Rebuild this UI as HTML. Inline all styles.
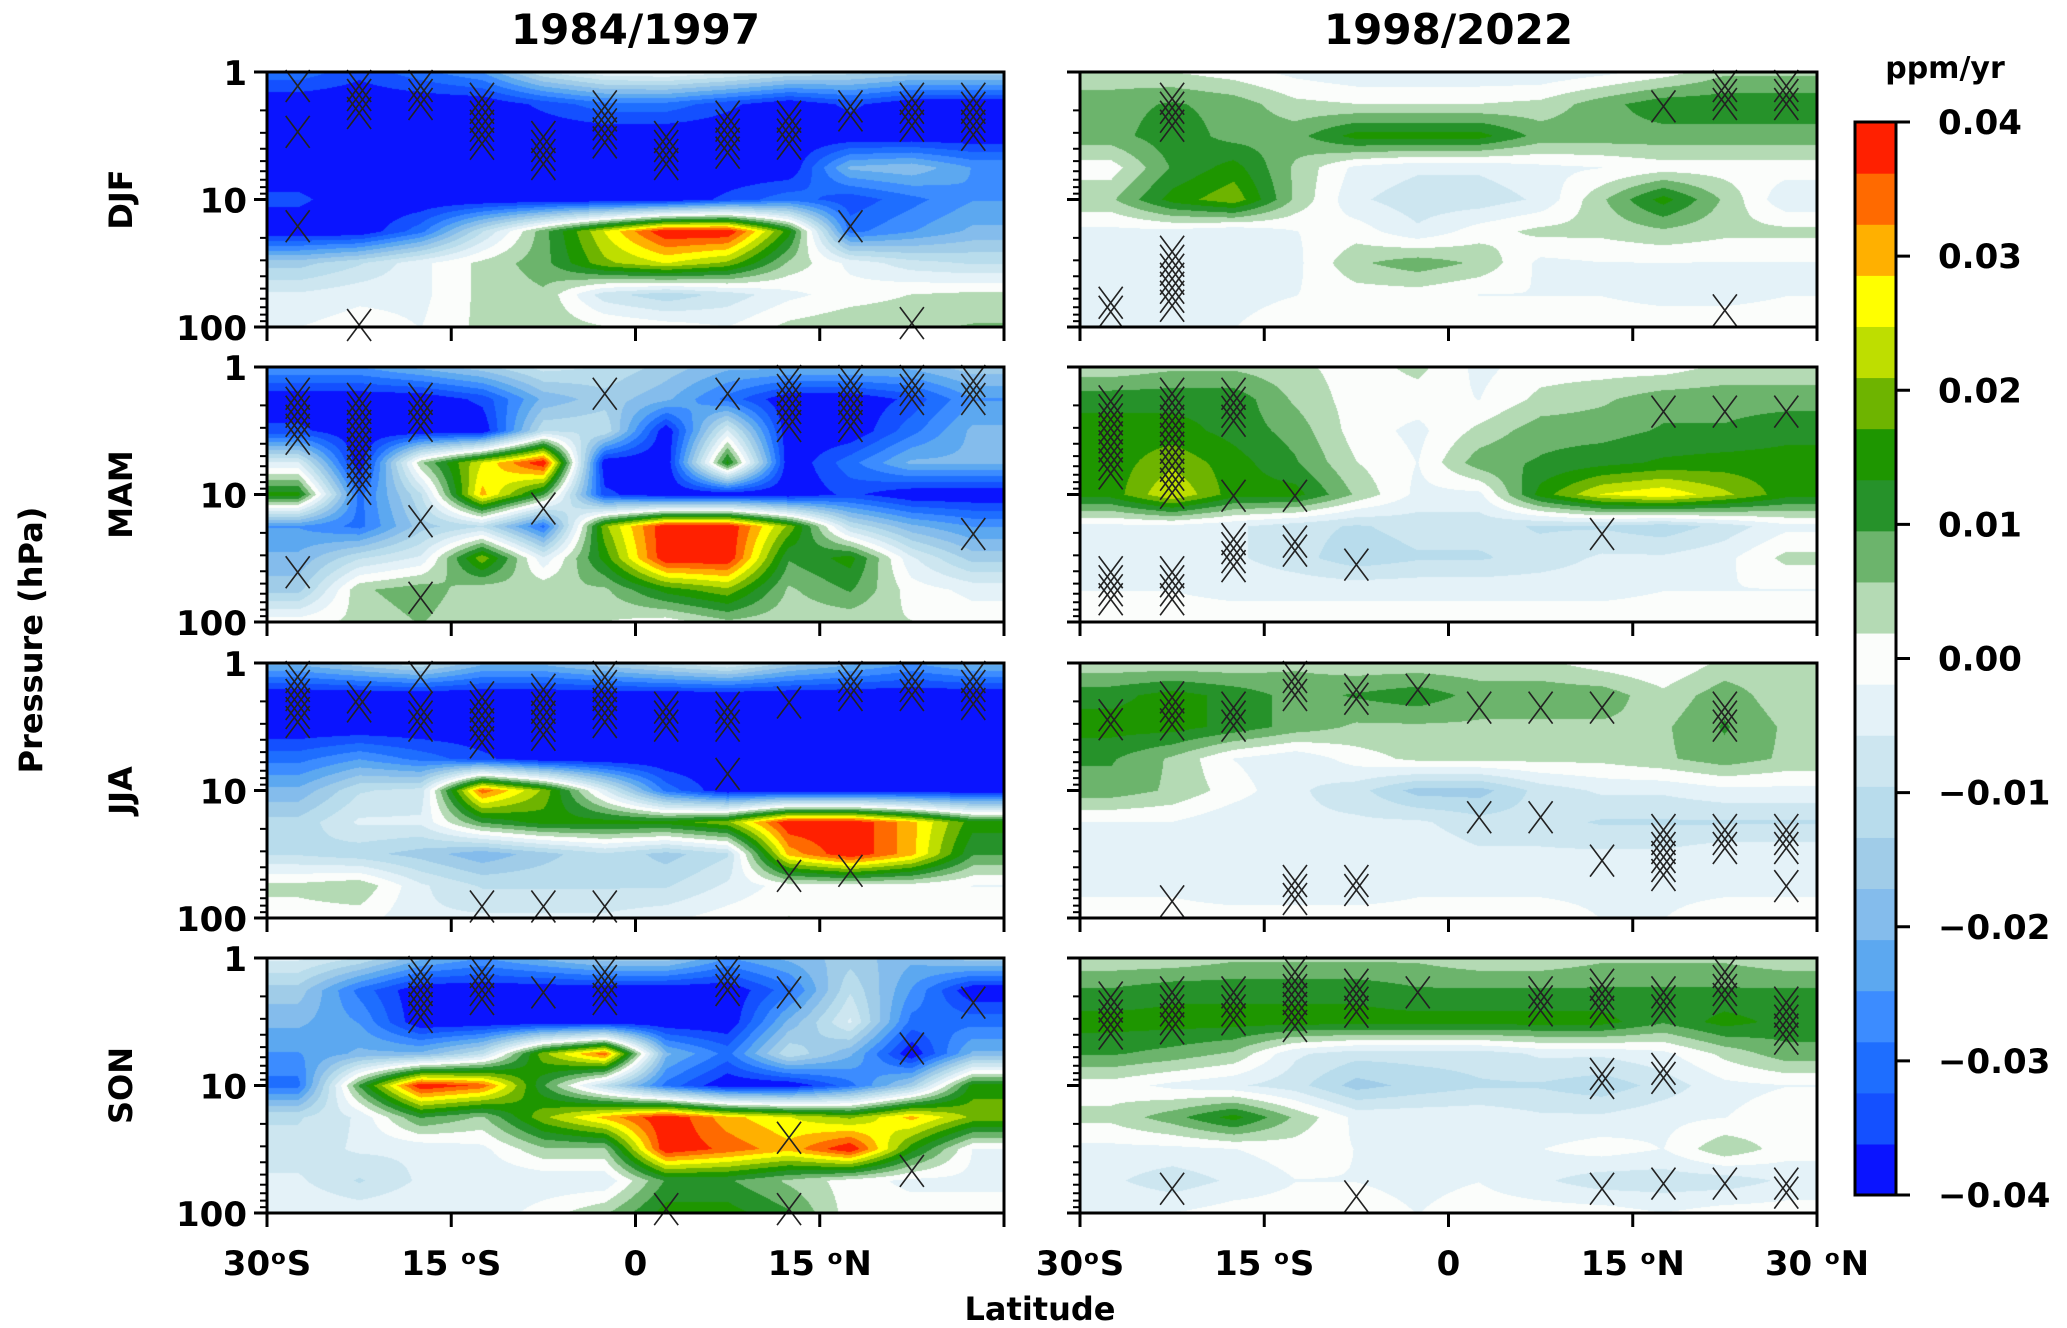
<!DOCTYPE html>
<html><head><meta charset="utf-8">
<style>
html,body{margin:0;padding:0;background:#fff;width:2067px;height:1328px;overflow:hidden;position:relative}
canvas{position:absolute}
svg{position:absolute;left:0;top:0}
text{font-family:"DejaVu Sans","Liberation Sans",sans-serif;font-weight:bold;fill:#000}
</style></head>
<body>
<div id="fields"></div>
<svg id="ov" width="2067" height="1328"></svg>
<script>
// latitude centers (deg) and pressure levels (hPa)
const lats=[-27.5,-22.5,-17.5,-12.5,-7.5,-2.5,2.5,7.5,12.5,17.5,22.5,27.5];
const logp=[0,0.25,0.5,0.75,1,1.25,1.5,1.75,2];
const seasons=["DJF","MAM","JJA","SON"];
const periods=["1984/1997","1998/2022"];
const cbTicks=[0.04,0.03,0.02,0.01,0.00,-0.01,-0.02,-0.03,-0.04];
const cbLabels=["0.04","0.03","0.02","0.01","0.00","\u22120.01","\u22120.02","\u22120.03","\u22120.04"];
const xTicks=[-30,-15,0,15,30];
const xLabelsL=["30\u1D52S","15 \u1D52S","0","15 \u1D52N",""];
const xLabelsR=["30\u1D52S","15 \u1D52S","0","15 \u1D52N","30 \u1D52N"];
// trends in 0.001 ppm/yr, rows top (1 hPa) to bottom (100 hPa)
const djfA=[[-30,-35,-30,-25,-10,-3,-2,-5,-10,-12,-15,-15],[-40,-40,-40,-40,-35,-30,-30,-35,-40,-35,-40,-40],[-40,-40,-40,-40,-40,-40,-40,-40,-40,-40,-40,-40],[-40,-40,-40,-40,-40,-40,-40,-40,-40,-20,-18,-25],[-35,-40,-40,-40,-40,-40,-40,-35,-30,-35,-30,-25],[-40,-40,-30,-10,8,25,40,40,15,-30,-25,-20],[-15,-10,-3,3,8,20,25,20,5,-3,-8,-10],[-5,-3,-3,3,5,-8,-12,-8,-3,0,2,3],[-2,0,-2,3,5,2,0,-2,3,5,5,6]];
const mamA=[[-25,-25,-20,-15,-8,-10,-15,-20,-20,-20,-20,-15],[-40,-40,-40,-35,-20,-15,-20,-30,-40,-40,-35,-25],[-35,-40,-40,-40,-10,-10,-40,-5,-40,-40,-30,-20],[-5,-40,5,25,40,-40,-40,15,-40,-30,-20,-20],[15,-30,-10,30,10,-35,-40,-40,-40,-35,-40,-40],[-25,-30,-15,-10,-30,20,40,40,20,-10,-20,-25],[-20,-10,-5,20,-5,15,40,40,10,15,-5,-15],[-15,5,8,3,5,5,15,20,5,10,0,-3],[0,3,6,2,3,2,0,5,3,3,2,0]];
const jjaA=[[-20,-15,-10,-20,-20,-15,-10,-5,-15,-20,-25,-20],[-40,-40,-40,-40,-40,-40,-40,-40,-40,-40,-40,-40],[-40,-40,-40,-40,-40,-40,-40,-40,-40,-40,-40,-40],[-30,-25,-30,-35,-40,-40,-40,-40,-40,-40,-40,-40],[-20,-10,-8,35,20,-5,-30,-40,-40,-40,-40,-40],[-12,-5,-5,10,15,15,15,20,40,40,30,15],[-10,-12,-15,-20,-15,-10,-15,-10,30,40,30,10],[3,5,-5,-10,-10,-10,-10,-5,0,0,0,-2],[0,0,-5,-5,-5,-5,-3,0,2,0,0,0]];
const sonA=[[-5,-10,-20,-25,-20,-15,-15,-25,-20,-15,-20,-15],[-15,-30,-40,-40,-40,-40,-40,-40,-30,-10,-25,-40],[-20,-25,-40,-40,-40,-40,-40,-40,-20,-5,-30,-30],[-25,-20,-20,-10,20,35,-20,-30,-10,-20,-40,-20],[-30,10,40,35,10,-10,-30,-40,-40,-30,-15,15],[-10,-5,10,5,20,30,40,30,25,20,30,20],[-8,-5,-5,-3,5,5,40,35,30,40,15,-2],[-5,-10,-5,-5,-5,-5,10,10,5,0,-3,-3],[-2,-3,-2,-5,0,5,15,15,10,0,0,0]];
const djfB=[[3,2,0,-3,-5,-5,-5,-5,-3,0,5,5],[8,10,8,3,2,2,2,3,8,12,12,12],[8,12,8,8,15,15,15,8,8,8,8,8],[0,10,15,5,-3,-5,-5,-3,-2,0,0,0],[5,15,20,5,-5,-8,-8,-5,5,15,5,-5],[-3,-3,-5,-2,0,-5,0,3,3,5,3,3],[-3,-5,-5,-3,5,8,5,-3,-2,-2,-2,-2],[-3,-3,-3,-2,0,0,-2,-2,-2,-3,-3,-2],[-3,-2,-2,0,0,0,0,0,0,0,0,0]];
const mamB=[[3,5,5,3,0,3,-3,0,0,0,3,3],[12,12,12,5,0,0,-2,3,5,8,8,8],[15,15,12,8,0,-3,3,8,8,10,10,12],[15,20,15,10,2,-2,8,10,12,14,15,15],[15,25,15,15,5,-3,-3,15,25,28,22,15],[-3,-3,-5,-8,-10,-8,-8,-10,-10,-12,-8,-3],[-2,-3,-5,-8,-12,-10,-10,-8,-5,-5,-3,3],[-2,-2,-3,-3,-3,-3,-3,-3,-3,-2,-2,-2],[0,0,0,0,0,0,0,0,0,0,0,0]];
const jjaB=[[3,3,3,5,3,3,3,3,0,-2,3,3],[12,15,12,8,10,12,8,8,8,3,8,3],[15,15,12,8,5,5,5,5,5,5,10,5],[10,5,-2,-5,0,3,3,3,3,5,8,5],[8,5,0,-5,-8,-15,-15,-8,-5,-5,-3,-3],[-2,-2,-5,-5,-5,-5,-8,-8,-10,-10,-10,-10],[-3,-5,-5,-5,-3,-3,-5,-5,-5,-5,-3,-3],[-3,-3,-5,-5,-5,-3,-3,-3,-3,-3,-3,-3],[0,0,0,0,0,0,0,0,-2,-2,0,0]];
const sonB=[[3,3,5,5,5,5,3,3,5,5,5,3],[10,12,12,12,12,10,10,10,10,10,10,10],[15,15,15,15,15,15,15,15,15,10,15,12],[10,8,5,-5,-8,-8,-8,-5,-5,-3,3,8],[0,-3,-5,-8,-15,-12,-10,-10,-12,-8,-3,-2],[3,8,15,5,-3,-3,-3,-5,-5,-3,-2,0],[-3,-3,-2,0,-2,-3,-3,-2,0,-2,5,0],[-5,-8,-5,-2,-2,-3,-2,-5,-8,-8,-8,-5],[-2,-2,0,0,0,-2,0,0,0,-2,0,0]];
// significance hatching: [latIndex, topFrac, bottomFrac]
const sigDjfA=[[0,0,.1],[0,.18,.3],[0,.55,.6],[1,0,.25],[2,0,.2],[3,.05,.35],[4,.2,.45],[5,.08,.35],[6,.2,.45],[7,.12,.38],[8,.12,.35],[9,.08,.25],[9,.55,.6],[10,.05,.3],[10,.93,1],[11,.05,.32],[1,.95,1]];
const sigMamA=[[0,.05,.35],[1,.07,.55],[2,.07,.3],[2,.55,.6],[2,.85,.9],[4,.5,.55],[5,.05,.12],[7,.05,.12],[8,0,.3],[9,0,.3],[10,0,.18],[11,0,.2],[11,.6,.65],[0,.75,.8]];
const sigJjaA=[[0,0,.3],[1,.08,.25],[2,0,.05],[2,.12,.3],[3,.08,.38],[4,.05,.35],[5,0,.3],[6,.12,.3],[7,.12,.3],[7,.38,.45],[8,.1,.18],[9,0,.18],[10,0,.18],[11,0,.22],[3,.9,1],[4,.9,1],[5,.9,1],[8,.78,.88],[9,.76,.8]];
const sigSonA=[[2,0,.3],[3,0,.25],[4,.08,.18],[5,0,.22],[7,0,.18],[8,.08,.12],[10,.3,.38],[11,.12,.2],[8,.65,.7],[10,.78,.82],[6,.93,1],[8,.93,1]];
const sigDjfB=[[0,.85,1],[1,.05,.3],[1,.65,1],[9,.08,.18],[10,0,.2],[11,0,.2],[10,.88,.92]];
const sigMamB=[[0,.08,.5],[1,.05,.55],[2,.05,.3],[2,.45,.5],[3,.45,.5],[2,.62,.85],[3,.63,.8],[4,.72,.8],[8,.6,.65],[9,.12,.2],[10,.12,.18],[11,.12,.2],[0,.75,1],[1,.75,1]];
const sigJjaB=[[0,.15,.32],[1,.08,.32],[2,.12,.3],[3,0,.18],[4,.05,.22],[5,.05,.18],[6,.12,.18],[7,.12,.18],[8,.12,.18],[10,.12,.3],[6,.55,.6],[7,.55,.6],[9,.6,.9],[10,.6,.78],[11,.6,.78],[8,.72,.85],[11,.82,.88],[3,.8,1],[4,.8,.95],[1,.88,.92]];
const sigSonB=[[0,.1,.38],[1,.08,.35],[2,.08,.33],[3,0,.33],[4,.05,.28],[5,.08,.18],[7,.08,.28],[8,.05,.28],[9,.08,.28],[10,0,.25],[11,.12,.38],[8,.4,.55],[9,.38,.55],[1,.85,.95],[4,.88,1],[8,.85,.9],[9,.83,.9],[10,.83,.88],[11,.83,1]];

const fieldsA=[djfA,mamA,jjaA,sonA], fieldsB=[djfB,mamB,jjaB,sonB];
const sigA=[sigDjfA,sigMamA,sigJjaA,sigSonA], sigB=[sigDjfB,sigMamB,sigJjaB,sigSonB];

const palette=["#0a14ff","#1450ff","#1e6eff","#3c8cff","#5ca8f0","#84bcec","#a0cce8","#b8dcec","#cde6f0","#e4f2f8","#fbfdfb","#b4dab4","#6cb46c","#26922a","#1e9600","#6eb400","#bede00","#ffff00","#ffb000","#ff6a00","#ff2000"];
const VMIN=-40,VMAX=40,NB=palette.length;
const colX=[267,1080], PW=737, rowY=[72,367,663,958], PH=255;
const CB={x:1855,y:122,w:41,h:1073};
const LATMIN=-30,LATMAX=30;
function xs(lat,px){return px+(lat-LATMIN)/(LATMAX-LATMIN)*PW;}
function ys(lp,py){return py+lp/2*PH;}
function band(v){let b=Math.floor((v-VMIN)/((VMAX-VMIN)/NB));return Math.max(0,Math.min(NB-1,b));}
function hex(h){return [parseInt(h.substr(1,2),16),parseInt(h.substr(3,2),16),parseInt(h.substr(5,2),16)];}
const rgb=palette.map(hex);

const NS="http://www.w3.org/2000/svg";
const ov=document.getElementById('ov');
function el(tag,attrs,parent){const e=document.createElementNS(NS,tag);for(const k in attrs)e.setAttribute(k,attrs[k]);(parent||ov).appendChild(e);return e;}
function txt(s,attrs,parent){const e=el('text',attrs,parent);e.textContent=s;return e;}

function drawField(data,px,py,name){
  const c=document.createElement('canvas');
  c.width=PW;c.height=PH;c.style.left=px+'px';c.style.top=py+'px';
  
  
  document.getElementById('fields').appendChild(c);
  const ctx=c.getContext('2d');const img=ctx.createImageData(PW,PH);
  const nx=lats.length,ny=logp.length;
  for(let j=0;j<PH;j++){
    const lp=j/(PH-1)*2;
    let r=0;while(r<ny-2&&logp[r+1]<lp)r++;
    const ty=Math.max(0,Math.min(1,(lp-logp[r])/(logp[r+1]-logp[r])));
    for(let i=0;i<PW;i++){
      const lat=LATMIN+i/(PW-1)*(LATMAX-LATMIN);
      let q=0;while(q<nx-2&&lats[q+1]<lat)q++;
      const tx=Math.max(0,Math.min(1,(lat-lats[q])/(lats[q+1]-lats[q])));
      const v=(data[r][q]*(1-tx)+data[r][q+1]*tx)*(1-ty)+(data[r+1][q]*(1-tx)+data[r+1][q+1]*tx)*ty;
      const col=rgb[band(v)];const o=(j*PW+i)*4;
      img.data[o]=col[0];img.data[o+1]=col[1];img.data[o+2]=col[2];img.data[o+3]=255;
    }
  }
  ctx.putImageData(img,0,0);
}

function drawSig(sig,px,py,g){
  sig.forEach(s=>{
    const cx=xs(lats[s[0]],px);
    let y0=py+s[1]*PH+14,y1=py+s[2]*PH-14;
    if(y1<y0)y1=y0;
    for(let y=y0;y<=y1+0.1;y+=9){
      const yy=Math.min(y,py+PH-2);
      const p=el('path',{d:`M${cx-12},${yy-16}L${cx+12},${yy+16}M${cx+12},${yy-16}L${cx-12},${yy+16}`,stroke:'#222','stroke-width':1.6,fill:'none'},g);
      
      
    }
  });
}

for(let c=0;c<2;c++){
  for(let r=0;r<4;r++){
    const px=colX[c],py=rowY[r];
    drawField((c?fieldsB:fieldsA)[r],px,py,'field-'+seasons[r].toLowerCase()+'-'+(c?'1998-2022':'1984-1997'));
    const g=el('g',{});
    
    
    drawSig((c?sigB:sigA)[r],px,py,g);
    const fr=el('rect',{x:px,y:py,width:PW,height:PH,fill:'none',stroke:'#000','stroke-width':3},g);
    
    
    for(let d=0;d<=2;d++){
      el('line',{x1:px-13,x2:px,y1:ys(d,py),y2:ys(d,py),stroke:'#000','stroke-width':3},g);
      if(d<2)for(let m=2;m<=9;m++){const y=ys(d+Math.log10(m),py);el('line',{x1:px-7,x2:px,y1:y,y2:y,stroke:'#000','stroke-width':2},g);}
      if(c===0){const t=txt(String(Math.pow(10,d)),{x:px-20,y:ys(d,py)+13,'font-size':34,'text-anchor':'end'},g);
        }
    }
    xTicks.forEach(v=>el('line',{x1:xs(v,px),x2:xs(v,px),y1:py+PH,y2:py+PH+14,stroke:'#000','stroke-width':3},g));
    if(c===0){const t=txt(seasons[r],{transform:`translate(132,${py+PH/2}) rotate(-90)`,'font-size':32,'text-anchor':'middle'});
      }
  }
  const t=txt(periods[c],{x:colX[c]+PW/2,y:44,'font-size':42,'text-anchor':'middle'});
  
  const labs=c?xLabelsR:xLabelsL;
  xTicks.forEach((v,i)=>{if(!labs[i])return;const tl=txt(labs[i],{x:xs(v,colX[c]),y:1275,'font-size':34,'text-anchor':'middle'});
    });
}
const yt=txt('Pressure (hPa)',{transform:'translate(42,640) rotate(-90)','font-size':32,'text-anchor':'middle'});

const xt=txt('Latitude',{x:1040,y:1320,'font-size':32,'text-anchor':'middle'});


const cbg=el('g',{});


const bh=CB.h/NB;
palette.forEach((col,i)=>{const r=el('rect',{x:CB.x,y:CB.y+CB.h-(i+1)*bh,width:CB.w,height:bh+0.6,fill:col},cbg);
  });
el('rect',{x:CB.x,y:CB.y,width:CB.w,height:CB.h,fill:'none',stroke:'#000','stroke-width':3},cbg);
cbTicks.forEach((v,i)=>{const y=CB.y+(0.04-v)/0.08*CB.h;
  el('line',{x1:CB.x+CB.w,x2:CB.x+CB.w+14,y1:y,y2:y,stroke:'#000','stroke-width':3},cbg);
  const t=txt(cbLabels[i],{x:1938,y:y+12,'font-size':34,'text-anchor':'start'},cbg);
  });
const ct=txt('ppm/yr',{x:1945,y:78,'font-size':30,'text-anchor':'middle'},cbg);

</script>
</body></html>
